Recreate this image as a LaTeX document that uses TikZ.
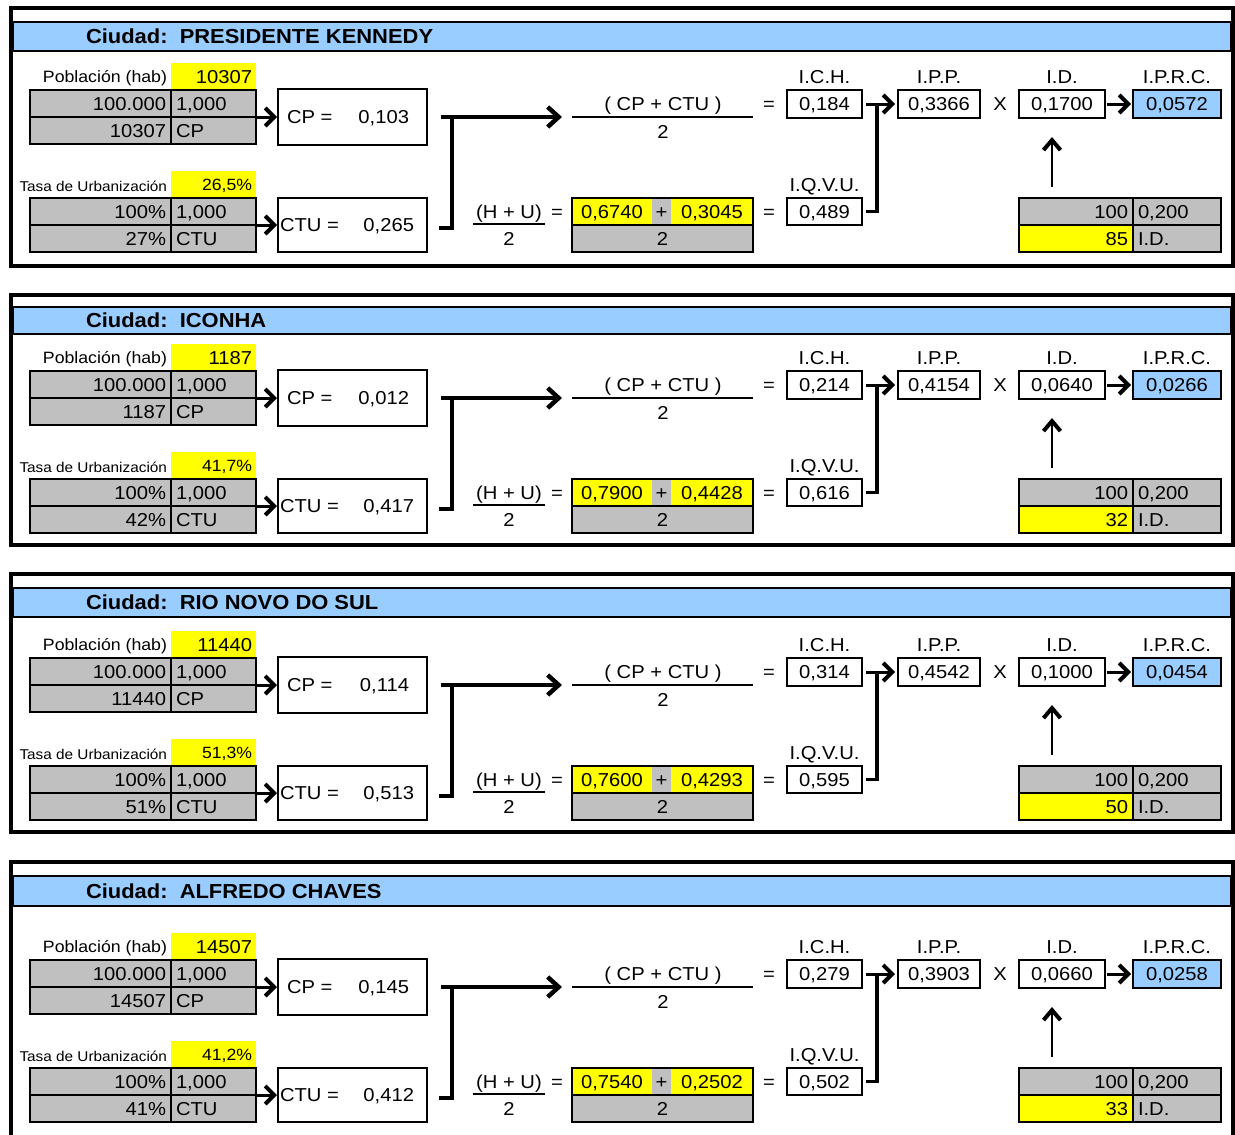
\documentclass[tikz,border=0pt]{standalone}
\usepackage{fontspec}
\setmainfont{Liberation Sans}[FakeStretch=1.08]
\usetikzlibrary{arrows.meta}
\definecolor{hdrblue}{HTML}{99CCFF}
\definecolor{cellgray}{HTML}{C0C0C0}
\definecolor{cellyellow}{HTML}{FFFF00}

\tikzset{
  txt/.style={inner sep=0pt, outer sep=0pt, font=\fontsize{18.7}{22}\selectfont, text height=13.4pt, text depth=0pt},
  poplbl/.style={txt, font=\fontsize{16.4}{20}\selectfont, text height=11.7pt},
  tasalbl/.style={txt, font=\fontsize{14.2}{17}\selectfont, text height=10.2pt},
  tasaval/.style={txt, font=\fontsize{16.3}{20}\selectfont, text height=11.7pt},
  hdrtxt/.style={txt, font=\bfseries\fontsize{20.3}{24}\selectfont, text height=14.5pt},
  cellbox/.style={txt, draw=black, line width=1.6pt},
  graycell/.style={cellbox, fill=cellgray},
  yellowcell/.style={txt, fill=cellyellow},
  valbox/.style={cellbox, fill=white},
  resbox/.style={cellbox, fill=hdrblue},
  panelframe/.style={draw=black, line width=4pt},
  hdrbar/.style={draw=black, line width=1.6pt, fill=hdrblue},
  fracbar/.style={draw=black, line width=1.4pt},
  barnode/.style={inner sep=0pt, outer sep=0pt, minimum height=0pt},
  flowarrow/.style={line width=3pt, -{Straight Barb[length=9pt,width=18pt,line width=4pt]}},
  joinline/.style={line width=4pt, line join=miter},
  bigflow/.style={line width=4pt, -{Straight Barb[length=11pt,width=20pt,line width=4.5pt]}},
  upflow/.style={line width=2.6pt, -{Straight Barb[length=10pt,width=17pt,line width=4pt]}},
}

% rectangle node given by its corners (x1,y1)-(x2,y2)
\newcommand{\boxat}[7]{%
  \pgfmathsetmacro\bxW{#5-#3}\pgfmathsetmacro\bxH{#6-#4}%
  \node[#1, minimum width=\bxW pt, minimum height=\bxH pt] (#2) at ({(#3+#5)/2},{(#4+#6)/2}) {#7};}

% one city panel: #1 name prefix, #2 frame top, #3/#4 header bar top/bottom,
% #5 vertical offset of the contents, #6 frame bottom
\newcommand{\panel}[6]{%
  \draw[panelframe] (11,#2) rectangle (1233,#6);
  \path[hdrbar] (13,#3) rectangle (1231,#4);
  \node[hdrtxt, anchor=west] (#1hdr) at (86,{(#3+#4)/2}) {Ciudad:\ \ \dCity};
  \begin{scope}[shift={(0,#5)}]
    % population block
    \node[poplbl, anchor=east] (#1popl) at (167,77) {Población (hab)};
    \boxat{yellowcell}{#1popc}{171}{63}{256}{90}{}
    \node[txt, anchor=east] (#1popv) at (252,76.5) {\dPop};
    \boxat{graycell}{#1a11}{30}{90}{171}{117}{}
    \boxat{graycell}{#1a12}{171}{90}{256}{117}{}
    \boxat{graycell}{#1a21}{30}{117}{171}{144}{}
    \boxat{graycell}{#1a22}{171}{117}{256}{144}{}
    \node[txt, anchor=east] (#1a11t) at (166,103.5) {100.000};
    \node[txt, anchor=west] (#1a12t) at (176,103.5) {1,000};
    \node[txt, anchor=east] (#1a21t) at (166,130.5) {\dPop};
    \node[txt, anchor=west] (#1a22t) at (176,130.5) {CP};
    \boxat{valbox}{#1cpb}{278}{89}{427}{145}{}
    \node[txt, anchor=west] (#1cpl) at (287,117) {CP =};
    \node[txt, anchor=east] (#1cpv) at (409,117) {\dCP};
    % urbanisation block
    \node[tasalbl, anchor=east] (#1tl) at (167,186) {Tasa de Urbanización};
    \boxat{yellowcell}{#1tc}{171}{171}{256}{198}{}
    \node[tasaval, anchor=east] (#1tv) at (252,185) {\dTasa};
    \boxat{graycell}{#1b11}{30}{198}{171}{225}{}
    \boxat{graycell}{#1b12}{171}{198}{256}{225}{}
    \boxat{graycell}{#1b21}{30}{225}{171}{252}{}
    \boxat{graycell}{#1b22}{171}{225}{256}{252}{}
    \node[txt, anchor=east] (#1b11t) at (166,211.5) {100\%};
    \node[txt, anchor=west] (#1b12t) at (176,211.5) {1,000};
    \node[txt, anchor=east] (#1b21t) at (166,238.5) {\dPct};
    \node[txt, anchor=west] (#1b22t) at (176,238.5) {CTU};
    \boxat{valbox}{#1ctub}{278}{198}{427}{252}{}
    \node[txt, anchor=west] (#1ctul) at (280,225) {CTU =};
    \node[txt, anchor=east] (#1ctuv) at (414,225) {\dCTU};
    % I.C.H. fraction
    \node[txt] (#1fn) at (663,104) {( CP + CTU )};
    \node[barnode, minimum width=181pt] (#1fb) at (662.5,117) {};
    \node[txt] (#1fd) at (663,131.5) {2};
    \node[txt] (#1e1) at (769,104) {=};
    \node[txt] (#1ichl) at (824.5,77) {I.C.H.};
    \boxat{valbox}{#1ich}{787}{90}{862}{118}{\dICH}
    % I.Q.V.U. fraction
    \node[txt] (#1hun) at (509,211.5) {(H + U)};
    \node[barnode, minimum width=72pt] (#1hub) at (509,224) {};
    \node[txt] (#1hud) at (509,239) {2};
    \node[txt] (#1e2) at (557,211.5) {=};
    \boxat{yellowcell}{#1h1}{572}{198}{652}{225}{\dH}
    \boxat{graycell, draw=none}{#1h2}{652}{198}{671}{225}{+}
    \boxat{yellowcell}{#1h3}{671}{198}{753}{225}{\dU}
    \boxat{graycell}{#1h4}{572}{225}{753}{252}{2}
    \boxat{cellbox}{#1hu}{572}{198}{753}{252}{}
    \node[txt] (#1e3) at (769,211.5) {=};
    \node[txt] (#1iqvul) at (824.5,185) {I.Q.V.U.};
    \boxat{valbox}{#1iqvu}{787}{198}{862}{225}{\dIQVU}
    % product row
    \node[txt] (#1ippl) at (939,77) {I.P.P.};
    \boxat{valbox}{#1ipp}{898}{90}{980}{118}{\dIPP}
    \node[txt] (#1x) at (1000,104) {X};
    \node[txt] (#1idl) at (1062,77) {I.D.};
    \boxat{valbox}{#1id}{1019}{90}{1105}{118}{\dID}
    \node[txt] (#1iprcl) at (1177,77) {I.P.R.C.};
    \boxat{resbox}{#1iprc}{1133}{90}{1221}{118}{\dIPRC}
    % I.D. table
    \boxat{graycell}{#1d11}{1019}{198}{1133}{225}{}
    \boxat{graycell}{#1d12}{1133}{198}{1221}{225}{}
    \boxat{graycell, fill=cellyellow}{#1d21}{1019}{225}{1133}{252}{}
    \boxat{graycell}{#1d22}{1133}{225}{1221}{252}{}
    \node[txt, anchor=east] (#1d11t) at (1128,211.5) {100};
    \node[txt, anchor=west] (#1d12t) at (1138,211.5) {0,200};
    \node[txt, anchor=east] (#1d21t) at (1128,238.5) {\dIDn};
    \node[txt, anchor=west] (#1d22t) at (1138,238.5) {I.D.};
    % connectors
    \coordinate (#1jt) at (441,117);
    \coordinate (#1jv) at (452,117);
    \coordinate (#1jb) at (439,228);
    \coordinate (#1jn) at (877,104);
    \coordinate (#1ua) at (1052,187);
    \coordinate (#1ub) at (1052,137);
    \draw[fracbar] (#1fb.west) -- (#1fb.east);
    \draw[fracbar] (#1hub.west) -- (#1hub.east);
    \draw[flowarrow] (#1a12.south east) -- ([xshift=-1pt]#1cpb.west);
    \draw[flowarrow] (#1b12.south east) -- ([xshift=-1pt]#1ctub.west);
    \draw[joinline] (#1jb) -| (#1jv);
    \draw[bigflow] (#1jt) -- ([xshift=-10pt]#1fb.west);
    \draw[joinline, line width=3.5pt] ([xshift=4pt]#1iqvu.east) -| (#1jn);
    \draw[flowarrow] ([xshift=4pt]#1ich.east) -- ([xshift=-3pt]#1ipp.west);
    \draw[flowarrow] ([xshift=2pt]#1id.east) -- ([xshift=-2pt]#1iprc.west);
    \draw[upflow] (#1ua) -- (#1ub);
  \end{scope}}

\begin{document}
\begin{tikzpicture}[x=1pt, y=-1pt]
  \useasboundingbox (0,0) rectangle (1235,1135);
  \clip (0,0) rectangle (1235,1135);
  \fill[white] (0,0) rectangle (1235,1135);

  \def\dCity{PRESIDENTE KENNEDY}\def\dPop{10307}\def\dCP{0,103}%
  \def\dTasa{26,5\%}\def\dPct{27\%}\def\dCTU{0,265}\def\dH{0,6740}\def\dU{0,3045}%
  \def\dICH{0,184}\def\dIQVU{0,489}\def\dIPP{0,3366}\def\dID{0,1700}\def\dIPRC{0,0572}\def\dIDn{85}%
  \panel{pa}{8}{22}{51}{0}{266}

  \def\dCity{ICONHA}\def\dPop{1187}\def\dCP{0,012}%
  \def\dTasa{41,7\%}\def\dPct{42\%}\def\dCTU{0,417}\def\dH{0,7900}\def\dU{0,4428}%
  \def\dICH{0,214}\def\dIQVU{0,616}\def\dIPP{0,4154}\def\dID{0,0640}\def\dIPRC{0,0266}\def\dIDn{32}%
  \panel{pb}{295}{307}{334}{281}{545}

  \def\dCity{RIO NOVO DO SUL}\def\dPop{11440}\def\dCP{0,114}%
  \def\dTasa{51,3\%}\def\dPct{51\%}\def\dCTU{0,513}\def\dH{0,7600}\def\dU{0,4293}%
  \def\dICH{0,314}\def\dIQVU{0,595}\def\dIPP{0,4542}\def\dID{0,1000}\def\dIPRC{0,0454}\def\dIDn{50}%
  \panel{pc}{574}{588}{617}{568}{832}

  \def\dCity{ALFREDO CHAVES}\def\dPop{14507}\def\dCP{0,145}%
  \def\dTasa{41,2\%}\def\dPct{41\%}\def\dCTU{0,412}\def\dH{0,7540}\def\dU{0,2502}%
  \def\dICH{0,279}\def\dIQVU{0,502}\def\dIPP{0,3903}\def\dID{0,0660}\def\dIPRC{0,0258}\def\dIDn{33}%
  \panel{pd}{862}{876}{906}{870}{1170}
\end{tikzpicture}
\end{document}
